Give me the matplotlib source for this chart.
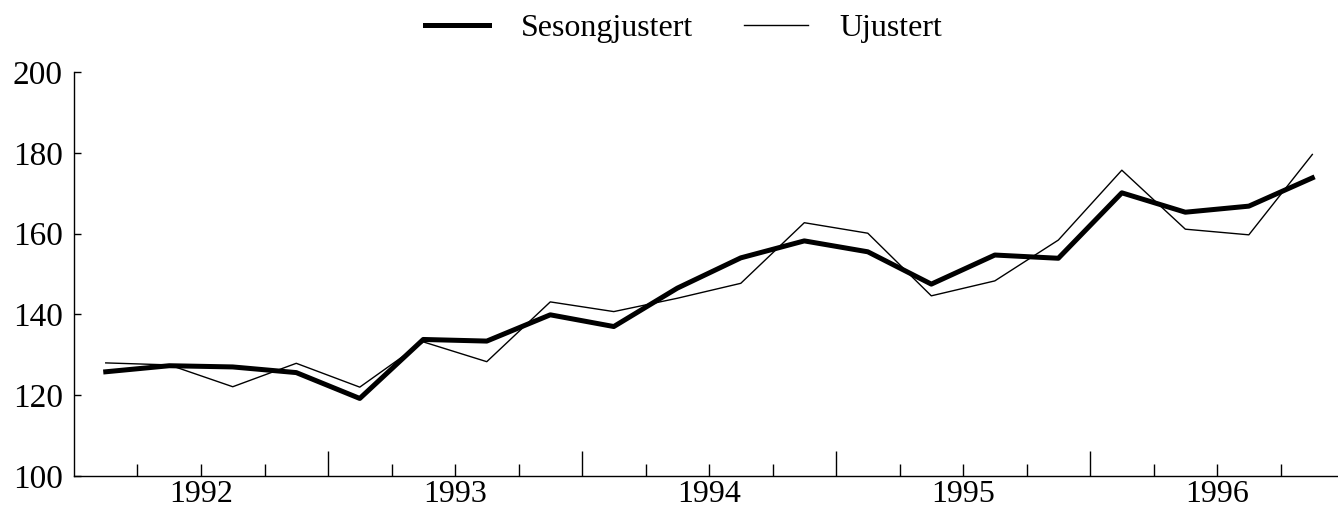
import numpy as np
import matplotlib.pyplot as plt

plt.rcParams['font.family'] = ['Liberation Serif', 'DejaVu Serif']

years = [1992, 1993, 1994, 1995, 1996]
# quarterly values, 1992Q1 - 1996Q4
sesongjustert = [125.8, 127.3, 127.0, 125.6, 119.2, 133.8, 133.4, 139.9, 137.0, 146.5,
                 154.0, 158.2, 155.5, 147.5, 154.7, 153.9, 170.1, 165.3, 166.8, 173.8]
ujustert = [128.0, 127.5, 122.1, 127.9, 122.0, 133.2, 128.3, 143.1, 140.7, 144.0,
            147.7, 162.7, 160.1, 144.6, 148.3, 158.4, 175.7, 161.1, 159.7, 179.6]

# points at the middle of each quarter
x = years[0] + (np.arange(len(sesongjustert)) + 0.5) / 4

fig = plt.figure(figsize=(13.38, 5.09), dpi=100)
ax = fig.add_axes([0.0553, 0.0648, 0.9447, 0.7937])

ax.plot(x, sesongjustert, color='black', lw=3.6, label='Sesongjustert')
ax.plot(x, ujustert, color='black', lw=1.0, label='Ujustert')

ax.set_xlim(1992, 1996.976)
ax.set_ylim(100, 200)

ax.spines['top'].set_visible(False)
ax.spines['right'].set_visible(False)
ax.spines['left'].set_linewidth(1.0)
ax.spines['bottom'].set_linewidth(1.0)

ax.set_yticks(np.arange(100, 201, 20))
ax.tick_params(axis='y', direction='in', length=5, width=1, labelsize=24, pad=8)

# year boundaries as long ticks, quarter boundaries short, year labels mid-year
ax.set_xticks(years[1:])
ax.set_xticklabels([])
quarters = [y + q / 4 for y in years for q in (1, 2, 3)]
qlabels = [str(int(q)) if q % 1 == 0.5 else '' for q in quarters]
ax.set_xticks(quarters, labels=qlabels, minor=True)
ax.tick_params(axis='x', which='major', direction='in', length=18, width=1)
ax.tick_params(axis='x', which='minor', direction='in', length=9, width=1,
               labelsize=23, pad=3)

fig.legend(loc='upper center', bbox_to_anchor=(0.511, 1.03), ncol=2, frameon=False,
           fontsize=23, handlelength=2.0, columnspacing=1.6, handletextpad=1.0)

fig.savefig('out.png', dpi=100)
